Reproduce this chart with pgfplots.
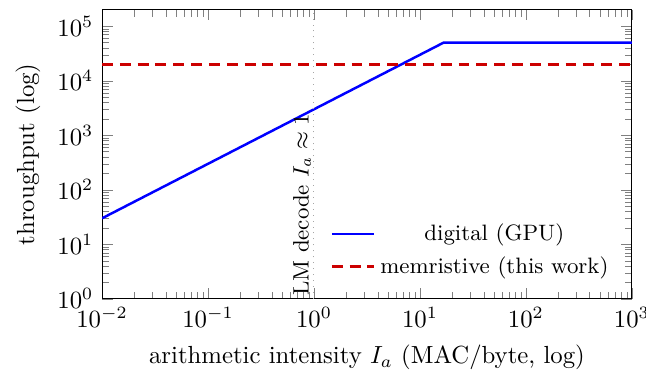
\documentclass[border=0pt]{standalone}
\usepackage{pgfplots}
\pgfplotsset{compat=1.18}
\begin{document}
\begin{tikzpicture}
\begin{axis}[
  scale only axis,
  width=214pt, height=116.7pt,
  xmode=log, ymode=log,
  xmin=0.01, xmax=1000,
  ymin=1, ymax=2e5,
  xlabel={arithmetic intensity $I_a$ (MAC/byte, log)},
  ylabel={throughput (log)},
  legend cell align=center,
  legend style={draw=none, fill=none, font=\small, at={(0.98,0.04)}, anchor=south east, row sep=1pt},
]
\addplot[blue, line width=1pt] coordinates {(0.01,30) (16.667,50000) (1000,50000)};
\addlegendentry{digital (GPU)}
\addplot[red!80!black, line width=1pt, dash pattern=on 4.4pt off 2.8pt] coordinates {(0.01,20000) (1000,20000)};
\addlegendentry{memristive (this work)}
\addplot[gray!70, dotted, forget plot] coordinates {(1,1) (1,2e5)};
\node[rotate=90, anchor=south west, inner sep=1pt, font=\small] at (axis cs:1,1) {LM decode $I_a\approx 1$};
\end{axis}
\pgfresetboundingbox
\path ([xshift=-41.2pt, yshift=-30.7pt]current axis.south west) rectangle ([xshift=5.7pt, yshift=4pt]current axis.north east);
\end{tikzpicture}
\end{document}
